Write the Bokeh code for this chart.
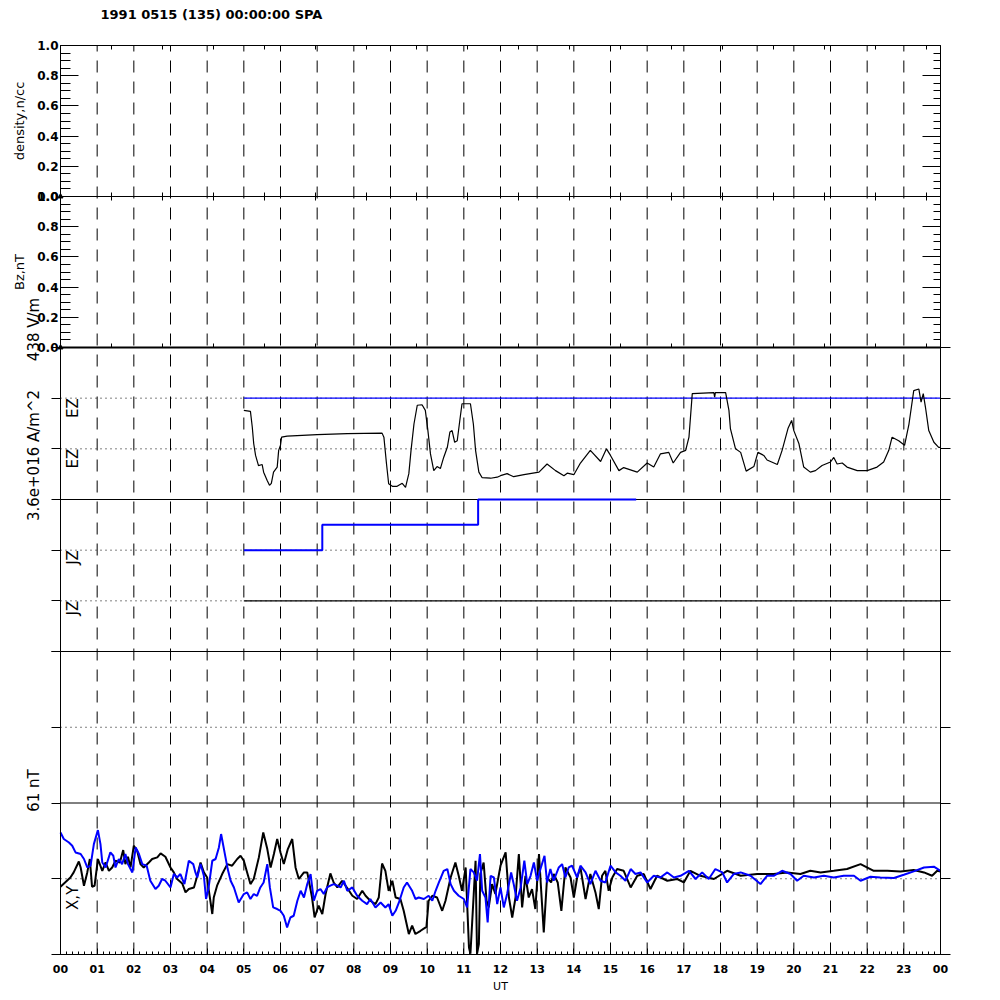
import math
from bokeh.plotting import figure
from bokeh.models import (Range1d, LinearAxis, SingleIntervalTicker, Label,
                          PrintfTickFormatter)
from bokeh.embed import file_html
from bokeh.resources import INLINE
from bokeh.core.properties import value

# ------------------------------------------------------------------ data
TITLE = "1991 0515 (135) 00:00:00 SPA"
HOURS = list(range(25))
HOUR_LABELS = [f"{h % 24:02d}" for h in HOURS]

# panel 1 / 2 : only a single sample at the start
dens_t = [0.0]
dens_v = [0.0]
bz_t = [0.0]
bz_v = [0.0]

# panel 3 (EZ / JZ, in band units: 0..6)
ez_t = [5.00, 5.18, 5.23, 5.27, 5.32, 5.40, 5.50, 5.54, 5.64, 5.70, 5.75, 5.81, 5.91, 5.95, 6.00, 6.03,
        6.18, 7.00, 7.82, 8.77, 8.82, 8.89, 8.95, 9.05, 9.18, 9.32, 9.41, 9.50, 9.56, 9.64, 9.73, 9.86,
        9.95, 10.02, 10.09, 10.18, 10.27, 10.36, 10.45, 10.55, 10.62, 10.68, 10.75, 10.82, 10.89, 10.95,
        11.18, 11.26, 11.32, 11.41, 11.50, 11.73, 11.91, 12.00, 12.18, 12.36, 12.64, 13.05, 13.27, 13.50,
        13.73, 13.82, 14.00, 14.18, 14.45, 14.73, 14.89, 15.00, 15.23, 15.36, 15.73, 16.00, 16.18, 16.36,
        16.59, 16.71, 16.91, 17.05, 17.14, 17.23, 17.82, 17.84, 17.86, 18.14, 18.23, 18.27, 18.41, 18.55,
        18.70, 18.91, 19.02, 19.18, 19.27, 19.55, 19.68, 19.84, 19.94, 20.00, 20.14, 20.27, 20.45, 20.59,
        20.77, 21.00, 21.09, 21.18, 21.32, 21.45, 21.73, 22.00, 22.27, 22.45, 22.59, 22.68, 22.86, 23.02,
        23.14, 23.27, 23.41, 23.47, 23.53, 23.59, 23.68, 23.82, 23.95, 24.00]
ez_v = [4.76, 4.74, 4.43, 4.10, 3.87, 3.67, 3.69, 3.54, 3.37, 3.28, 3.32, 3.54, 3.64, 3.97, 4.07, 4.23,
        4.25, 4.28, 4.30, 4.31, 4.23, 3.71, 3.31, 3.26, 3.26, 3.32, 3.24, 3.51, 3.97, 4.49, 4.86, 4.87,
        4.76, 4.36, 3.90, 3.57, 3.65, 3.61, 3.83, 4.03, 4.33, 4.36, 4.13, 4.16, 4.56, 4.89,
        4.89, 4.49, 3.97, 3.54, 3.43, 3.42, 3.44, 3.47, 3.51, 3.45, 3.49, 3.54, 3.70, 3.57,
        3.47, 3.52, 3.49, 3.72, 3.97, 3.75, 4.00, 3.87, 3.57, 3.63, 3.54, 3.72, 3.64, 3.90,
        3.93, 3.72, 3.93, 3.97, 4.23, 5.09, 5.11, 5.02, 5.11, 5.11, 4.76, 4.40, 4.00, 3.93,
        3.56, 3.65, 3.93, 3.87, 3.78, 3.69, 3.97, 4.40, 4.56, 4.36, 4.10, 3.64, 3.54, 3.57,
        3.67, 3.74, 3.83, 3.70, 3.72, 3.64, 3.57, 3.57, 3.64, 3.74, 3.97, 4.23, 4.16, 4.07,
        4.49, 5.15, 5.18, 4.92, 5.09, 4.82, 4.36, 4.13, 4.03, 4.03]
ez_ref_t = [5.0, 24.0]
ez_ref_v = [5.0, 5.0]
jz_t = [5.0, 7.14, 11.39, 15.70]
jz_v = [2.0, 2.5, 3.0, 3.0]
jz_ref_t = [5.0, 24.0]
jz_ref_v = [1.0, 1.0]

# bottom panel: X (black) and Y (blue), nT
bx_t = [0.00, 0.27, 0.36, 0.50, 0.55, 0.64, 0.73, 0.80, 0.86, 0.93,
        1.02, 1.14, 1.23, 1.32, 1.41, 1.50, 1.62, 1.71, 1.77, 1.84,
        1.91, 2.00, 2.09, 2.18, 2.27, 2.41, 2.50, 2.64, 2.73, 2.86,
        3.00, 3.09, 3.18, 3.32, 3.41, 3.50, 3.64, 3.73, 3.82, 3.91,
        4.00, 4.04, 4.14, 4.18, 4.27, 4.41, 4.55, 4.68, 4.82, 4.91,
        5.00, 5.09, 5.18, 5.27, 5.41, 5.53, 5.64, 5.73, 5.82, 5.91,
        6.00, 6.09, 6.20, 6.32, 6.41, 6.50, 6.64, 6.73, 6.86, 6.93,
        7.04, 7.14, 7.23, 7.36, 7.45, 7.55, 7.68, 7.82, 7.96, 8.09,
        8.23, 8.32, 8.45, 8.59, 8.68, 8.77, 8.86, 8.95, 9.05, 9.14,
        9.27, 9.36, 9.50, 9.59, 9.68, 9.82, 9.98, 10.04, 10.14, 10.27,
        10.41, 10.50, 10.64, 10.77, 10.86, 10.95, 11.05, 11.14, 11.18, 11.27,
        11.32, 11.36, 11.41, 11.45, 11.54, 11.62, 11.68, 11.77, 11.86, 12.00,
        12.14, 12.23, 12.32, 12.41, 12.50, 12.59, 12.68, 12.77, 12.86, 12.95,
        13.05, 13.11, 13.18, 13.27, 13.38, 13.45, 13.56, 13.66, 13.77, 13.91,
        14.00, 14.09, 14.18, 14.32, 14.45, 14.59, 14.68, 14.77, 14.86, 14.95,
        15.05, 15.18, 15.36, 15.55, 15.73, 15.91, 16.09, 16.27, 16.55, 16.82,
        17.00, 17.18, 17.45, 17.82, 18.18, 18.55, 19.00, 19.45, 19.82, 20.18,
        20.45, 20.73, 21.09, 21.45, 21.82, 22.18, 22.55, 22.91, 23.27, 23.55,
        23.77, 23.91, 24.00]
bx_v = [-6.4, 1.0, 5.1, 13.9, 9.1, -5.6, 5.1, 15.9, -6.4, -5.6,
        15.9, 6.4, 13.1, 6.4, 9.1, 14.5, 13.1, 23.1, 11.8, 17.7,
        9.1, 26.6, 22.5, 11.8, 9.1, 13.1, 15.9, 17.2, 20.4, 17.7,
        9.1, 5.1, -0.2, -3.8, -11.0, -8.3, -7.0, 2.4, 13.1, 5.1,
        1.0, -8.3, -28.4, -15.1, -5.6, 3.8, 11.8, 10.5, 15.9, 18.5,
        14.5, 5.1, -4.3, -0.2, 17.2, 37.3, 23.9, 9.1, 19.9, 32.0,
        21.2, 11.8, 23.9, 32.0, 9.1, -0.2, 5.1, 5.1, -15.1, -31.2,
        -21.7, -28.4, -12.3, 4.3, -3.0, -7.0, -1.6, -7.5, -13.7, -16.3,
        -9.7, -13.7, -17.7, -20.4, -15.1, 12.3, 6.4, -9.7, -1.6, -15.1,
        -16.3, -25.8, -44.5, -37.8, -44.5, -41.9, -38.7, -17.7, -13.7, -15.1,
        -25.8, -17.7, 1.0, 13.1, 2.4, -9.7, 9.1, -55.3, -60.4, -12.3,
        14.5, -60.4, -52.6, 3.8, 13.1, -17.7, -23.1, -4.3, -12.3, 10.5,
        21.2, -15.1, -31.2, -15.1, 19.9, -23.1, 2.4, -15.1, -8.3, -24.4,
        19.9, -9.7, -43.2, 1.0, -3.0, 3.8, -3.0, -25.8, 9.1, 1.0,
        -15.1, 1.0, 9.1, -16.3, 3.8, -11.0, -24.4, 2.4, 6.4, -9.7,
        1.0, 7.8, 6.4, -7.0, 2.4, 3.8, -8.3, 2.4, -1.6, -0.2,
        -3.0, 6.4, 2.4, -0.2, 6.4, 2.4, 3.8, 3.8, 5.1, 3.8,
        6.4, 5.1, 6.4, 7.8, 11.8, 6.4, 6.4, 5.9, 7.0, 5.1,
        2.4, 6.4, 5.9]
by_t = [0.00, 0.09, 0.23, 0.32, 0.41, 0.55, 0.64, 0.73, 0.82, 0.91,
        1.02, 1.09, 1.14, 1.23, 1.36, 1.44, 1.50, 1.59, 1.68, 1.77,
        1.84, 1.96, 2.05, 2.14, 2.23, 2.35, 2.45, 2.59, 2.68, 2.77,
        2.86, 3.00, 3.09, 3.18, 3.27, 3.38, 3.50, 3.62, 3.68, 3.73,
        3.82, 3.91, 3.97, 4.04, 4.14, 4.23, 4.32, 4.38, 4.50, 4.56,
        4.64, 4.73, 4.86, 5.00, 5.09, 5.18, 5.27, 5.36, 5.45, 5.54,
        5.64, 5.71, 5.80, 5.91, 6.00, 6.09, 6.18, 6.27, 6.36, 6.46,
        6.55, 6.64, 6.73, 6.82, 6.91, 7.00, 7.09, 7.18, 7.27, 7.36,
        7.45, 7.55, 7.64, 7.73, 7.82, 7.96, 8.09, 8.23, 8.36, 8.45,
        8.59, 8.73, 8.86, 8.95, 9.05, 9.14, 9.23, 9.36, 9.45, 9.59,
        9.68, 9.77, 9.91, 10.04, 10.14, 10.23, 10.32, 10.45, 10.55, 10.64,
        10.73, 10.86, 11.00, 11.09, 11.18, 11.27, 11.36, 11.44, 11.50, 11.59,
        11.65, 11.73, 11.82, 11.91, 12.00, 12.09, 12.18, 12.29, 12.36, 12.45,
        12.55, 12.65, 12.73, 12.82, 12.91, 13.00, 13.09, 13.20, 13.27, 13.36,
        13.45, 13.59, 13.68, 13.77, 13.86, 13.95, 14.09, 14.18, 14.32, 14.45,
        14.59, 14.73, 14.86, 15.00, 15.14, 15.27, 15.41, 15.55, 15.68, 15.82,
        16.00, 16.18, 16.36, 16.55, 16.73, 16.91, 17.14, 17.32, 17.50, 17.68,
        17.86, 18.05, 18.18, 18.36, 18.55, 18.82, 19.09, 19.27, 19.45, 19.68,
        19.91, 20.09, 20.27, 20.55, 20.82, 21.09, 21.36, 21.64, 21.82, 22.09,
        22.36, 22.73, 23.00, 23.27, 23.55, 23.82, 24.00]
by_v = [37.3, 32.0, 29.2, 26.6, 21.2, 19.9, 15.9, 9.1, 10.5, 27.9,
        39.2, 27.9, 13.1, 9.1, 21.2, 18.5, 9.1, 15.9, 11.8, 19.9,
        11.8, 5.1, 25.2, 19.9, 11.8, 10.5, -1.6, -8.3, -5.6, -0.2,
        -1.6, -7.0, 3.8, 1.0, 3.8, -4.3, 14.5, 11.8, 5.1, 1.0,
        11.8, 2.4, -16.3, -7.0, 14.5, 15.9, 25.2, 36.0, 17.2, 7.8,
        -1.6, -7.0, -19.1, -12.3, -11.0, -16.3, -12.3, -13.7, -7.0, -3.0,
        11.8, -7.0, -23.1, -24.4, -25.8, -29.8, -39.2, -31.2, -29.8, -17.7,
        -9.7, -15.1, -4.3, 3.8, -17.7, -9.7, -8.3, -12.3, -7.0, -5.6,
        -4.3, -5.6, -7.0, -1.6, -9.7, -7.0, -13.7, -17.7, -20.4, -16.3,
        -23.1, -19.1, -23.1, -20.4, -29.8, -25.8, -19.1, -7.0, -3.0, -9.7,
        -16.3, -15.1, -16.3, -13.7, -17.7, -9.7, -3.0, 6.4, 7.8, -4.3,
        -9.7, -13.7, -16.3, -23.1, 7.8, 5.1, -1.6, 19.9, -9.7, -15.1,
        -35.2, 2.4, 1.0, -20.4, -7.0, -23.1, -12.3, 5.1, -4.3, -17.7,
        -7.0, 14.5, -4.3, 2.4, 13.1, -1.6, 7.8, 18.5, -3.0, 7.8,
        -1.6, 9.1, 11.8, 1.0, 9.1, 10.5, 1.0, 10.5, 5.1, -4.3,
        6.4, -1.6, -3.0, 10.5, 5.1, 2.4, -1.6, 7.8, 3.8, 5.1,
        -3.0, 2.4, 1.0, 5.1, 1.0, 2.4, 6.4, -0.2, 5.1, -0.2,
        7.8, 5.1, -3.0, 3.8, 5.1, 2.4, -4.3, 2.4, 2.4, 6.4,
        3.8, -1.6, 2.4, 1.0, 2.4, 1.0, 2.4, 2.4, -1.6, 1.6,
        1.0, 0.6, 3.2, 5.9, 9.1, 9.7, 6.4]

# band reference lines (panel 3 in band units, bottom panel in nT)
c_solid = [3.0, 0.0]
c_dotted = [5.0, 4.0, 2.0, 1.0]
d_solid = [61.0]
d_dotted = [122.0, 0.0]

# text labels
band_lbl_text = ["EZ", "EZ", "JZ", "JZ"]
band_lbl_y = [5.0, 4.0, 2.0, 1.0]
xy_lbl_text = ["X,Y"]
xy_lbl_y = [-5.6]

# ------------------------------------------------------------------ layout (pixels)
FONT = "DejaVu Sans"
W, H = 996, 996
PX_L, PX_R = 60, 940
PANELS = {"A": (45, 196, 0.0, 1.0), "B": (196, 347, 0.0, 1.0),
          "C": (347, 651, 0.0, 6.0), "D": (651, 954, -61.0, 183.0)}
PXH = (PX_R - PX_L) / 24.0


def prange(name):
    top, bottom, lo, hi = PANELS[name]
    s = (hi - lo) / (bottom - top)
    return Range1d(start=lo - (H - bottom) * s, end=hi + top * s)


def to_units(name, px):
    top, bottom, lo, hi = PANELS[name]
    return lo + (bottom - px) * (hi - lo) / (bottom - top)


p = figure(width=W, height=H,
           x_range=Range1d(-PX_L / PXH, 24 + (W - PX_R) / PXH), y_range=prange("D"),
           x_axis_type=None, y_axis_type=None,
           output_backend="svg", toolbar_location=None, min_border=0)
p.extra_y_ranges = {"A": prange("A"), "B": prange("B"), "C": prange("C")}
p.outline_line_color = None
p.background_fill_color = "white"
p.border_fill_color = "white"


def axis(side, rname, loc, bounds, ticker, tin=0, tout=0, mtin=0, mtout=0,
         line_color="black", line_width=1, **kw):
    ax = LinearAxis(y_range_name=rname, fixed_location=loc, bounds=bounds, ticker=ticker,
                    major_tick_in=tin, major_tick_out=tout, minor_tick_in=mtin, minor_tick_out=mtout,
                    axis_line_color=line_color, axis_line_width=line_width,
                    major_tick_line_color="black", minor_tick_line_color="black",
                    axis_label_text_color="black", **kw)
    ax.major_label_text_color = "black" if "major_label_text_font" in kw else None
    p.add_layout(ax, side)
    return ax


lab_kw = dict(major_label_text_font=FONT, major_label_text_font_size="12px",
              major_label_text_font_style="bold", major_label_standoff=2,
              axis_label_text_font=FONT, axis_label_text_font_size="13px",
              axis_label_text_font_style="normal", axis_label_standoff=7)

TSEC = 5000 / 3600  # small ticks of the upper panels (every 5000 s)
for rname, title in (("A", "density,n/cc"), ("B", "Bz,nT")):
    axis("left", rname, 0, (0, 1), SingleIntervalTicker(interval=0.2, num_minor_ticks=4),
         tin=18, mtin=10, axis_label=title, formatter=PrintfTickFormatter(format="%.1f"), **lab_kw)
    axis("right", rname, 24, (0, 1), SingleIntervalTicker(interval=0.2, num_minor_ticks=4),
         tin=18, mtin=7)
axis("above", "A", 1, (0, 24), SingleIntervalTicker(interval=TSEC, num_minor_ticks=0), tin=4)
axis("below", "A", 0, (0, 24), SingleIntervalTicker(interval=TSEC, num_minor_ticks=0), tin=4)
axis("above", "B", 1, (0, 24), SingleIntervalTicker(interval=TSEC, num_minor_ticks=0), tin=4,
     line_color=None)
axis("below", "B", 0, (0, 24), SingleIntervalTicker(interval=TSEC, num_minor_ticks=0), tin=4,
     line_width=2)

axis("left", "C", 0, (0, 6), SingleIntervalTicker(interval=1, num_minor_ticks=0), tout=9)
axis("right", "C", 24, (0, 6), SingleIntervalTicker(interval=1, num_minor_ticks=0), tout=10)
axis("left", "default", 0, (-61, 183), SingleIntervalTicker(interval=61, num_minor_ticks=0), tout=9)
axis("right", "default", 24, (-61, 183), SingleIntervalTicker(interval=61, num_minor_ticks=0), tout=10)

axis("below", "default", -61, (0, 24), SingleIntervalTicker(interval=1, num_minor_ticks=6),
     tin=6, mtin=3,
     major_label_overrides={h: s for h, s in zip(HOURS, HOUR_LABELS)},
     major_label_text_font=FONT, major_label_text_font_size="11px",
     major_label_text_font_style="bold", major_label_standoff=10,
     axis_label="UT", axis_label_text_font=FONT, axis_label_text_font_size="11px",
     axis_label_text_font_style="normal", axis_label_standoff=4)

# band lines
p.segment(x0=[0] * len(c_solid), x1=[24] * len(c_solid), y0=c_solid, y1=c_solid,
          y_range_name="C", line_color="black", line_width=1)
p.segment(x0=[0] * len(c_dotted), x1=[24] * len(c_dotted), y0=c_dotted, y1=c_dotted,
          y_range_name="C", line_color="black", line_width=1, line_dash="1 4")
p.segment(x0=[0] * len(d_solid), x1=[24] * len(d_solid), y0=d_solid, y1=d_solid,
          line_color="black", line_width=1)
p.segment(x0=[0] * len(d_dotted), x1=[24] * len(d_dotted), y0=d_dotted, y1=d_dotted,
          line_color="black", line_width=1, line_dash="1 4")

# hourly dashed lines through all panels
hrs = HOURS[1:24]
y_bot = PANELS["D"][2]
y_top = to_units("D", PANELS["A"][0])
p.segment(x0=hrs, x1=hrs, y0=[y_bot] * len(hrs), y1=[y_top] * len(hrs),
          line_color="black", line_width=1, line_dash="12 9")

# data
p.scatter(dens_t, dens_v, y_range_name="A", size=5, marker="triangle", color="black")
p.scatter(bz_t, bz_v, y_range_name="B", size=5, marker="triangle", color="black")

p.line(ez_ref_t, ez_ref_v, y_range_name="C", line_color="#0000ff", line_width=1.2)
p.line(ez_t, ez_v, y_range_name="C", line_color="black", line_width=1.2)
p.line(jz_ref_t, jz_ref_v, y_range_name="C", line_color="black", line_width=1.2)
p.step(jz_t, jz_v, y_range_name="C", mode="after", line_color="#0000ff", line_width=2)

p.line(bx_t, bx_v, line_color="black", line_width=2)
p.line(by_t, by_v, line_color="#0000ff", line_width=2)

p.text(x=[0.33] * len(band_lbl_text), y=band_lbl_y, text=band_lbl_text, y_range_name="C",
       angle=math.pi / 2, text_align="right", text_baseline="middle",
       text_font=value(FONT), text_font_size="15px", text_color="black")
p.text(x=[0.33], y=xy_lbl_y, text=xy_lbl_text, angle=math.pi / 2, text_align="right",
       text_baseline="middle", text_font=value(FONT), text_font_size="15px", text_color="black")

# free text: title and side labels
p.add_layout(Label(x=(100 - PX_L) / PXH, y=to_units("A", 14), y_range_name="A", text=TITLE,
                   text_align="left", text_baseline="middle", text_font=FONT,
                   text_font_size="13px", text_font_style="bold", text_color="black"))
side_x = (33 - PX_L) / PXH
for txt, py in (("438 V/m", 329), ("3.6e+016 A/m^2", 455)):
    p.add_layout(Label(x=side_x, y=to_units("C", py), y_range_name="C", text=txt, angle=math.pi / 2,
                       text_align="center", text_baseline="middle", text_font=FONT,
                       text_font_size="15px", text_color="black"))
p.add_layout(Label(x=side_x, y=to_units("D", 790), text="61 nT", angle=math.pi / 2,
                   text_align="center", text_baseline="middle", text_font=FONT,
                   text_font_size="15px", text_color="black"))

open("out.html", "w").write(file_html(p, INLINE))
